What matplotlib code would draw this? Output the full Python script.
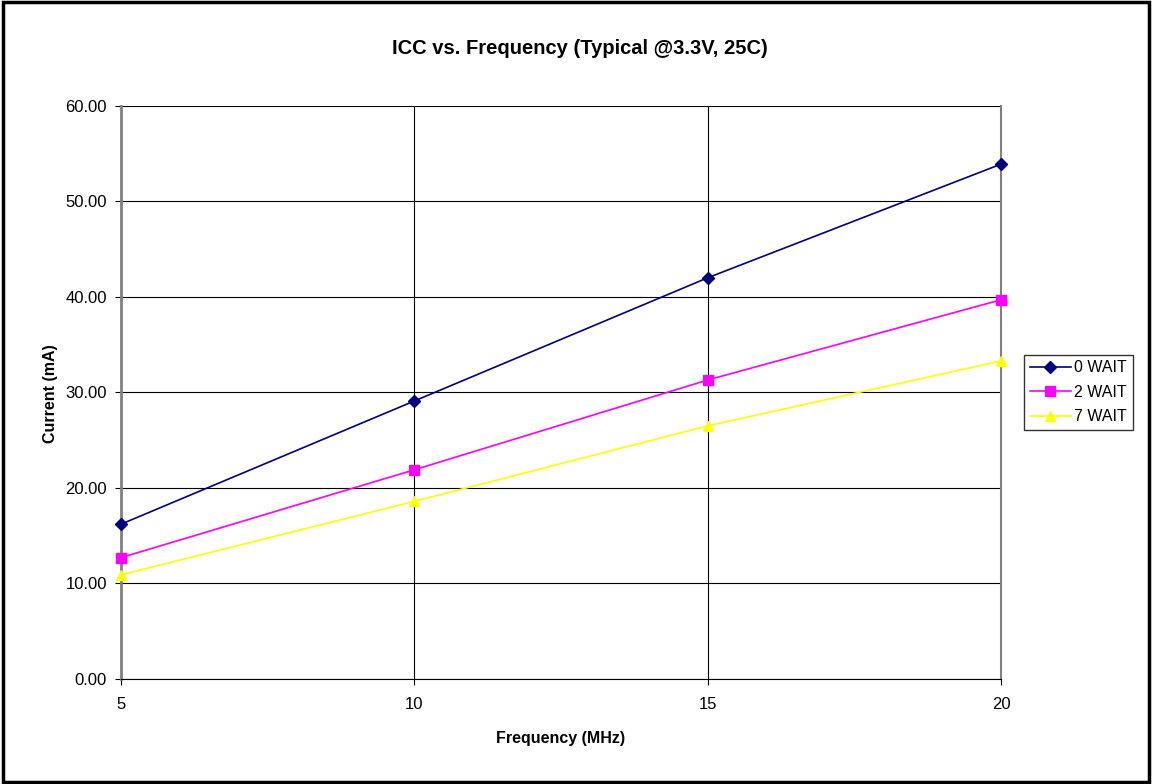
import matplotlib
matplotlib.use("Agg")
import matplotlib.pyplot as plt
from matplotlib.patches import Rectangle

plt.rcParams['font.family'] = ['Liberation Sans', 'DejaVu Sans']

freq = [5, 10, 15, 20]
wait0 = [16.2, 29.1, 42.0, 53.9]
wait2 = [12.7, 21.9, 31.3, 39.7]
wait7 = [10.9, 18.6, 26.5, 33.3]
y_ticks = [0, 10, 20, 30, 40, 50, 60]

W, H = 1152, 784
fig = plt.figure(figsize=(W / 100, H / 100), dpi=100)
fig.patches.append(Rectangle((0.003, 0.003), 0.994, 0.994, transform=fig.transFigure,
                             fill=False, edgecolor='black', linewidth=2.5))
ax = fig.add_axes([0.105, 0.134, 0.764, 0.731])

ax.plot(freq, wait0, color='#000080', marker='D', markersize=6, linewidth=1.2,
        label='0 WAIT', clip_on=False, zorder=5)
ax.plot(freq, wait2, color='#FF00FF', marker='s', markersize=7, linewidth=1.2,
        label='2 WAIT', clip_on=False, zorder=5)
ax.plot(freq, wait7, color='#FFFF00', marker='^', markersize=7, linewidth=1.2,
        label='7 WAIT', clip_on=False, zorder=5)

ax.set_xlim(5, 20)
ax.set_ylim(0, 60)
ax.set_xticks(freq)
ax.set_yticks(y_ticks)
ax.set_yticklabels([f"{v:.2f}" for v in y_ticks])
ax.grid(True, color='black', linewidth=0.8)
ax.set_axisbelow(True)
ax.spines['top'].set_visible(False)
ax.spines['left'].set_color('#808080')
ax.spines['left'].set_linewidth(2)
ax.spines['right'].set_color('#808080')
ax.spines['right'].set_linewidth(1.5)
ax.spines['bottom'].set_color('black')
ax.tick_params(axis='both', labelsize=12, colors='black', length=4, direction='out')
ax.tick_params(axis='x', pad=9, colors='black')
ax.tick_params(axis='y', pad=6)

fig.text(580 / W, 1 - 48 / H, 'ICC vs. Frequency (Typical @3.3V, 25C)', fontsize=14.5,
         fontweight='bold', ha='center', va='center')
fig.text(561 / W, 1 - 738 / H, 'Frequency (MHz)', fontsize=11.5, fontweight='bold',
         ha='center', va='center')
fig.text(50 / W, 1 - 394 / H, 'Current (mA)', fontsize=11.5, fontweight='bold',
         ha='center', va='center', rotation=90)

leg = ax.legend(loc='center left', bbox_to_anchor=(1.026, 0.5), fontsize=11.5,
                frameon=True, fancybox=False, edgecolor='black', borderpad=0.35,
                handlelength=2.6, handletextpad=0.2, labelspacing=0.6, borderaxespad=0)
leg.get_frame().set_linewidth(1.0)

fig.savefig('out.png', dpi=100)
